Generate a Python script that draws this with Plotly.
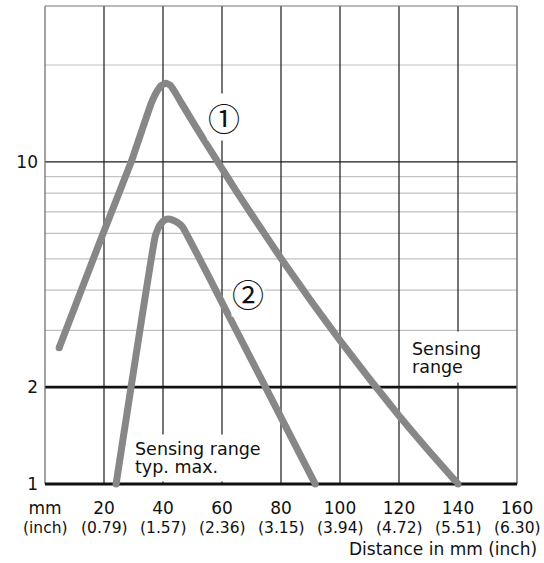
import numpy as np
import plotly.graph_objects as go

# ---- data ----
curve1_x = [4.8, 18.6, 29.2, 36.0, 38.0, 39.5, 41.0, 42.5, 44.2, 46.3, 50.0, 55.0, 60.0, 65.0, 70.0, 80.0, 90.0, 100.0, 110.0, 120.0, 130.0, 140.0]
curve1_y = [2.65, 5.65, 10.0, 15.2, 16.6, 17.3, 17.55, 17.3, 16.4, 15.2, 13.37, 11.27, 9.53, 8.08, 6.88, 5.02, 3.72, 2.79, 2.12, 1.63, 1.27, 1.0]

curve2_x = [24.1, 37.4, 38.8, 40.3, 41.8, 43.3, 44.8, 46.5, 48.0, 55.0, 62.0, 70.0, 80.0, 91.6]
curve2_y = [1.0, 5.9, 6.35, 6.58, 6.65, 6.6, 6.5, 6.3, 5.97, 4.5, 3.37, 2.43, 1.61, 1.0]

x_ticks = [20, 40, 60, 80, 100, 120, 140, 160]
x_tick_mm = ["20", "40", "60", "80", "100", "120", "140", "160"]
x_tick_inch = ["(0.79)", "(1.57)", "(2.36)", "(3.15)", "(3.94)", "(4.72)", "(5.51)", "(6.30)"]
y_ticks = [1, 2, 10]
y_tick_text = ["1", "2", "10"]
y_minor_grid = [3, 4, 5, 6, 7, 8, 9, 20]
x_range = [0, 160]
y_top = 30.5

FONT = "DejaVu Sans"
CURVE_COLOR = "#878787"

fig = go.Figure()

for xs, ys in [(curve1_x, curve1_y), (curve2_x, curve2_y)]:
    fig.add_trace(go.Scatter(
        x=xs, y=ys, mode="lines",
        line=dict(color=CURVE_COLOR, width=7, shape="spline", smoothing=0.3),
        hoverinfo="skip", showlegend=False,
    ))
    fig.add_trace(go.Scatter(
        x=[xs[0], xs[-1]], y=[ys[0], ys[-1]], mode="markers",
        marker=dict(color=CURVE_COLOR, size=7, line=dict(width=0)),
        hoverinfo="skip", showlegend=False, cliponaxis=False,
    ))

shapes = []
for v in y_minor_grid:
    shapes.append(dict(type="line", xref="x domain", yref="y", x0=0, x1=1, y0=v, y1=v,
                       line=dict(color="#c2c2c2", width=1.2), layer="below"))
shapes.append(dict(type="line", xref="x domain", yref="y", x0=0, x1=1, y0=10, y1=10,
                   line=dict(color="#1a1a1a", width=1.2), layer="below"))
shapes.append(dict(type="line", xref="x domain", yref="y", x0=0, x1=1, y0=2, y1=2,
                   line=dict(color="#111111", width=2.8), layer="below"))
for v in x_ticks[:-1]:
    shapes.append(dict(type="line", xref="x", yref="y domain", x0=v, x1=v, y0=0, y1=1,
                       line=dict(color="#1a1a1a", width=1.2), layer="below"))
shapes.append(dict(type="line", xref="x domain", yref="y domain", x0=0, x1=0, y0=0, y1=1,
                   line=dict(color="#666666", width=1.2), layer="below"))
shapes.append(dict(type="line", xref="x domain", yref="y domain", x0=1, x1=1, y0=0, y1=1,
                   line=dict(color="#666666", width=1.4), layer="below"))
shapes.append(dict(type="line", xref="x domain", yref="y domain", x0=0, x1=1, y0=1, y1=1,
                   line=dict(color="#777777", width=1.2), layer="below"))
shapes.append(dict(type="line", xref="x domain", yref="y domain", x0=0, x1=1, y0=0, y1=0,
                   line=dict(color="#111111", width=2.8), layer="below"))

annotations = []
inch_font = dict(family=FONT, size=15.5, color="#111")
annotations.append(dict(x=0, y=0, xref="x", yref="paper", text="(inch)", showarrow=False,
                        xanchor="center", yanchor="middle", yshift=-44, font=inch_font))
for xv, t in zip(x_ticks, x_tick_inch):
    annotations.append(dict(x=xv, y=0, xref="x", yref="paper", text=t, showarrow=False,
                            xanchor="center", yanchor="middle", yshift=-44, font=inch_font))
annotations.append(dict(x=1, y=0, xref="paper", yref="paper", text="Distance in mm (inch)",
                        showarrow=False, xanchor="right", yanchor="middle", yshift=-65, xshift=22,
                        font=dict(family=FONT, size=17, color="#111")))

txt_font = dict(family=FONT, size=17.5, color="#111")
# white backing boxes (no text) behind the two in-plot labels
annotations.append(dict(x=123.4, y=np.log10(2.48), xref="x", yref="y", text=" ",
                        showarrow=False, xanchor="left", yanchor="middle",
                        width=72, height=50, bgcolor="white", borderpad=0,
                        font=dict(family=FONT, size=4)))
annotations.append(dict(x=29.2, y=np.log10(1.204), xref="x", yref="y", text=" ",
                        showarrow=False, xanchor="left", yanchor="middle",
                        width=137, height=46, bgcolor="white", borderpad=0,
                        font=dict(family=FONT, size=4)))
annotations.append(dict(x=122.8, y=np.log10(2.62), xref="x", yref="y", text="Sensing",
                        showarrow=False, xanchor="left", yanchor="middle",
                        borderpad=4, font=txt_font))
annotations.append(dict(x=122.8, y=np.log10(2.31), xref="x", yref="y", text="range",
                        showarrow=False, xanchor="left", yanchor="middle",
                        borderpad=4, font=txt_font))
annotations.append(dict(x=29.3, y=np.log10(1.284), xref="x", yref="y", text="Sensing range",
                        showarrow=False, xanchor="left", yanchor="middle",
                        borderpad=3, font=txt_font))
annotations.append(dict(x=29.3, y=np.log10(1.129), xref="x", yref="y", text="typ. max.",
                        showarrow=False, xanchor="left", yanchor="middle",
                        borderpad=3, font=txt_font))

circ_font = dict(family="Noto Sans CJK JP", size=32, color="#111")
annotations.append(dict(x=60.7, y=np.log10(13.8), xref="x", yref="y", text="\u2460",
                        showarrow=False, xanchor="center", yanchor="middle",
                        bgcolor="white", borderpad=0, font=circ_font))
annotations.append(dict(x=68.9, y=np.log10(3.91), xref="x", yref="y", text="\u2461",
                        showarrow=False, xanchor="center", yanchor="middle",
                        bgcolor="white", borderpad=0, font=circ_font))

fig.update_layout(
    width=544, height=563, autosize=False,
    margin=dict(l=45, r=27, t=6, b=79, pad=0),
    paper_bgcolor="white", plot_bgcolor="white",
    shapes=shapes, annotations=annotations,
    font=dict(family=FONT, size=17, color="#111"),
    xaxis=dict(range=x_range, showgrid=False, zeroline=False, showline=False,
               tickmode="array", tickvals=[0] + x_ticks, ticktext=["mm"] + x_tick_mm,
               ticks="", ticklabelstandoff=12, tickfont=dict(family=FONT, size=17, color="#111")),
    yaxis=dict(type="log", range=[0, np.log10(y_top)], showgrid=False, zeroline=False,
               showline=False, tickmode="array", tickvals=y_ticks, ticktext=y_tick_text,
               ticks="", ticklabelstandoff=6, tickfont=dict(family=FONT, size=17, color="#111")),
)

fig.write_html("out.html", config={"displayModeBar": False},
               post_script="document.body.style.margin='0';document.body.style.overflow='hidden';")
